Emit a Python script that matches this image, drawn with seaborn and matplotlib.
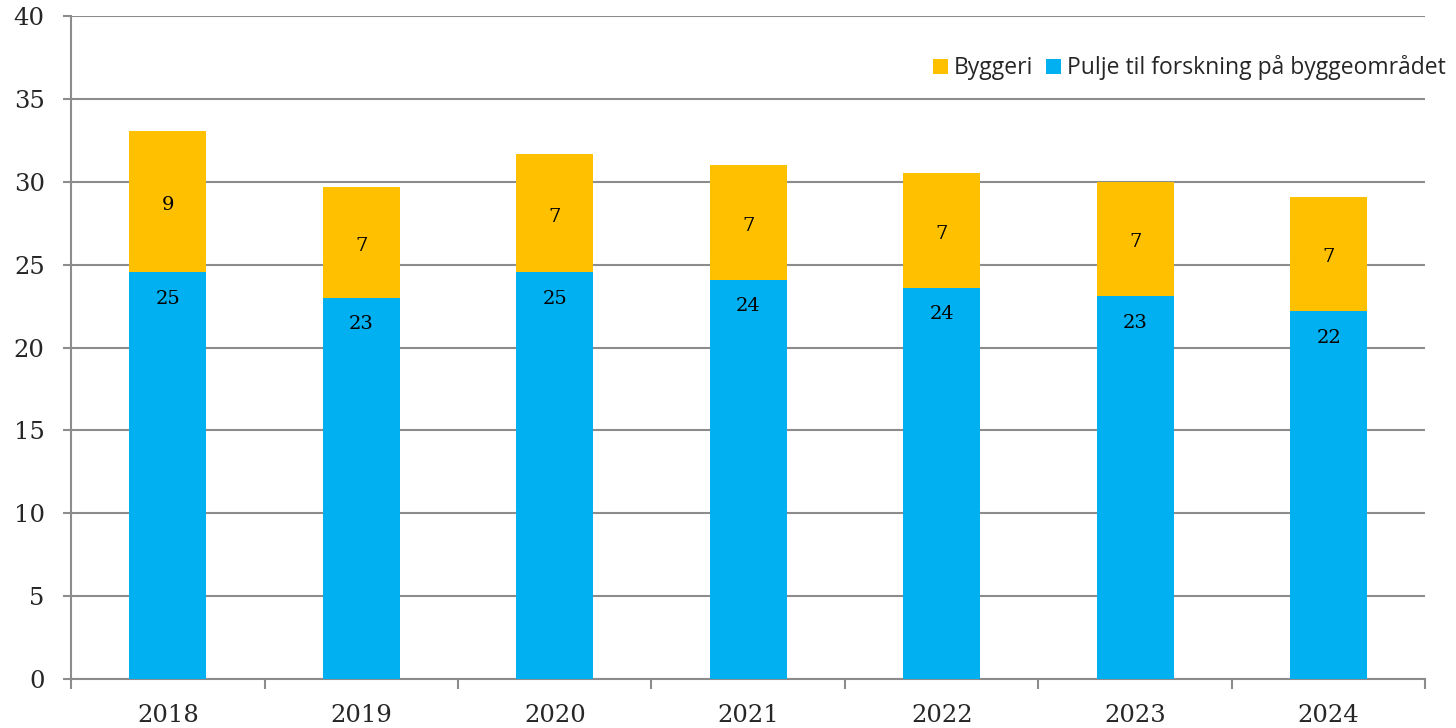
import matplotlib
matplotlib.use("Agg")
import matplotlib.pyplot as plt
import seaborn as sns
import pandas as pd
from matplotlib.patches import Patch

years = ["2018", "2019", "2020", "2021", "2022", "2023", "2024"]
pulje = [24.55, 23.0, 24.55, 24.1, 23.6, 23.1, 22.2]
byggeri = [8.51, 6.7, 7.1, 6.9, 6.9, 6.9, 6.9]
series_names = ["Byggeri", "Pulje til forskning på byggeområdet"]
yticks = [0, 5, 10, 15, 20, 25, 30, 35, 40]

BLUE = "#00B0F0"
YELLOW = "#FFC000"
GRID = "#8C8C8C"

sns.set_theme(style="white")
plt.rcParams["font.family"] = ["DejaVu Serif"]

df = pd.DataFrame({"year": years, "pulje": pulje, "byggeri": byggeri})

fig = plt.figure(figsize=(14.56, 7.28), dpi=100)
ax = fig.add_axes([0.0488, 0.0673, 0.9302, 0.9107])

sns.barplot(data=df, x="year", y="pulje", color=BLUE, width=0.4, ax=ax,
            saturation=1, linewidth=0, zorder=3)
sns.barplot(data=df, x="year", y="byggeri", color=YELLOW, width=0.4, ax=ax,
            saturation=1, linewidth=0, bottom=df["pulje"], zorder=3)

for i, (p, b) in enumerate(zip(pulje, byggeri)):
    ax.text(i, p - 1.6, f"{int(p + 0.5):d}", ha="center", va="center",
            fontsize=14, color="black", zorder=4)
    ax.text(i, p + b / 2 - 0.2, f"{int(b + 0.5):d}", ha="center", va="center",
            fontsize=14, color="black", zorder=4)

ax.set_ylim(0, 40)
ax.set_xlim(-0.5, len(years) - 0.5)
ax.set_yticks(yticks)
ax.set_yticklabels([str(t) for t in yticks], fontsize=17.5)
ax.set_xticks(range(len(years)))
ax.set_xticklabels(years, fontsize=17.5)
ax.set_xlabel("")
ax.set_ylabel("")

ax.yaxis.grid(True, color=GRID, linewidth=1.5, zorder=0)
ax.xaxis.grid(False)
ax.set_axisbelow(True)
for s in ["top", "right"]:
    ax.spines[s].set_visible(False)
for s in ["left", "bottom"]:
    ax.spines[s].set_color(GRID)
    ax.spines[s].set_linewidth(1.5)

ax.tick_params(axis="y", which="major", length=6, width=1.5, color=GRID,
               left=True, pad=13)
ax.tick_params(axis="x", which="major", length=0, pad=18)
ax.set_xticks([i - 0.5 for i in range(len(years) + 1)], minor=True)
ax.tick_params(axis="x", which="minor", length=7, width=1.5, color=GRID,
               bottom=True)

handles = [Patch(facecolor=YELLOW, edgecolor="none"),
           Patch(facecolor=BLUE, edgecolor="none")]
fig.legend(handles, series_names, loc="center right",
           bbox_to_anchor=(1.004, 0.907), ncol=2, frameon=False,
           prop={"family": "Open Sans", "size": 16.5},
           handlelength=0.65, handleheight=0.65, handletextpad=0.25,
           columnspacing=0.6, borderpad=0.2)

fig.savefig("out.png", dpi=100)
